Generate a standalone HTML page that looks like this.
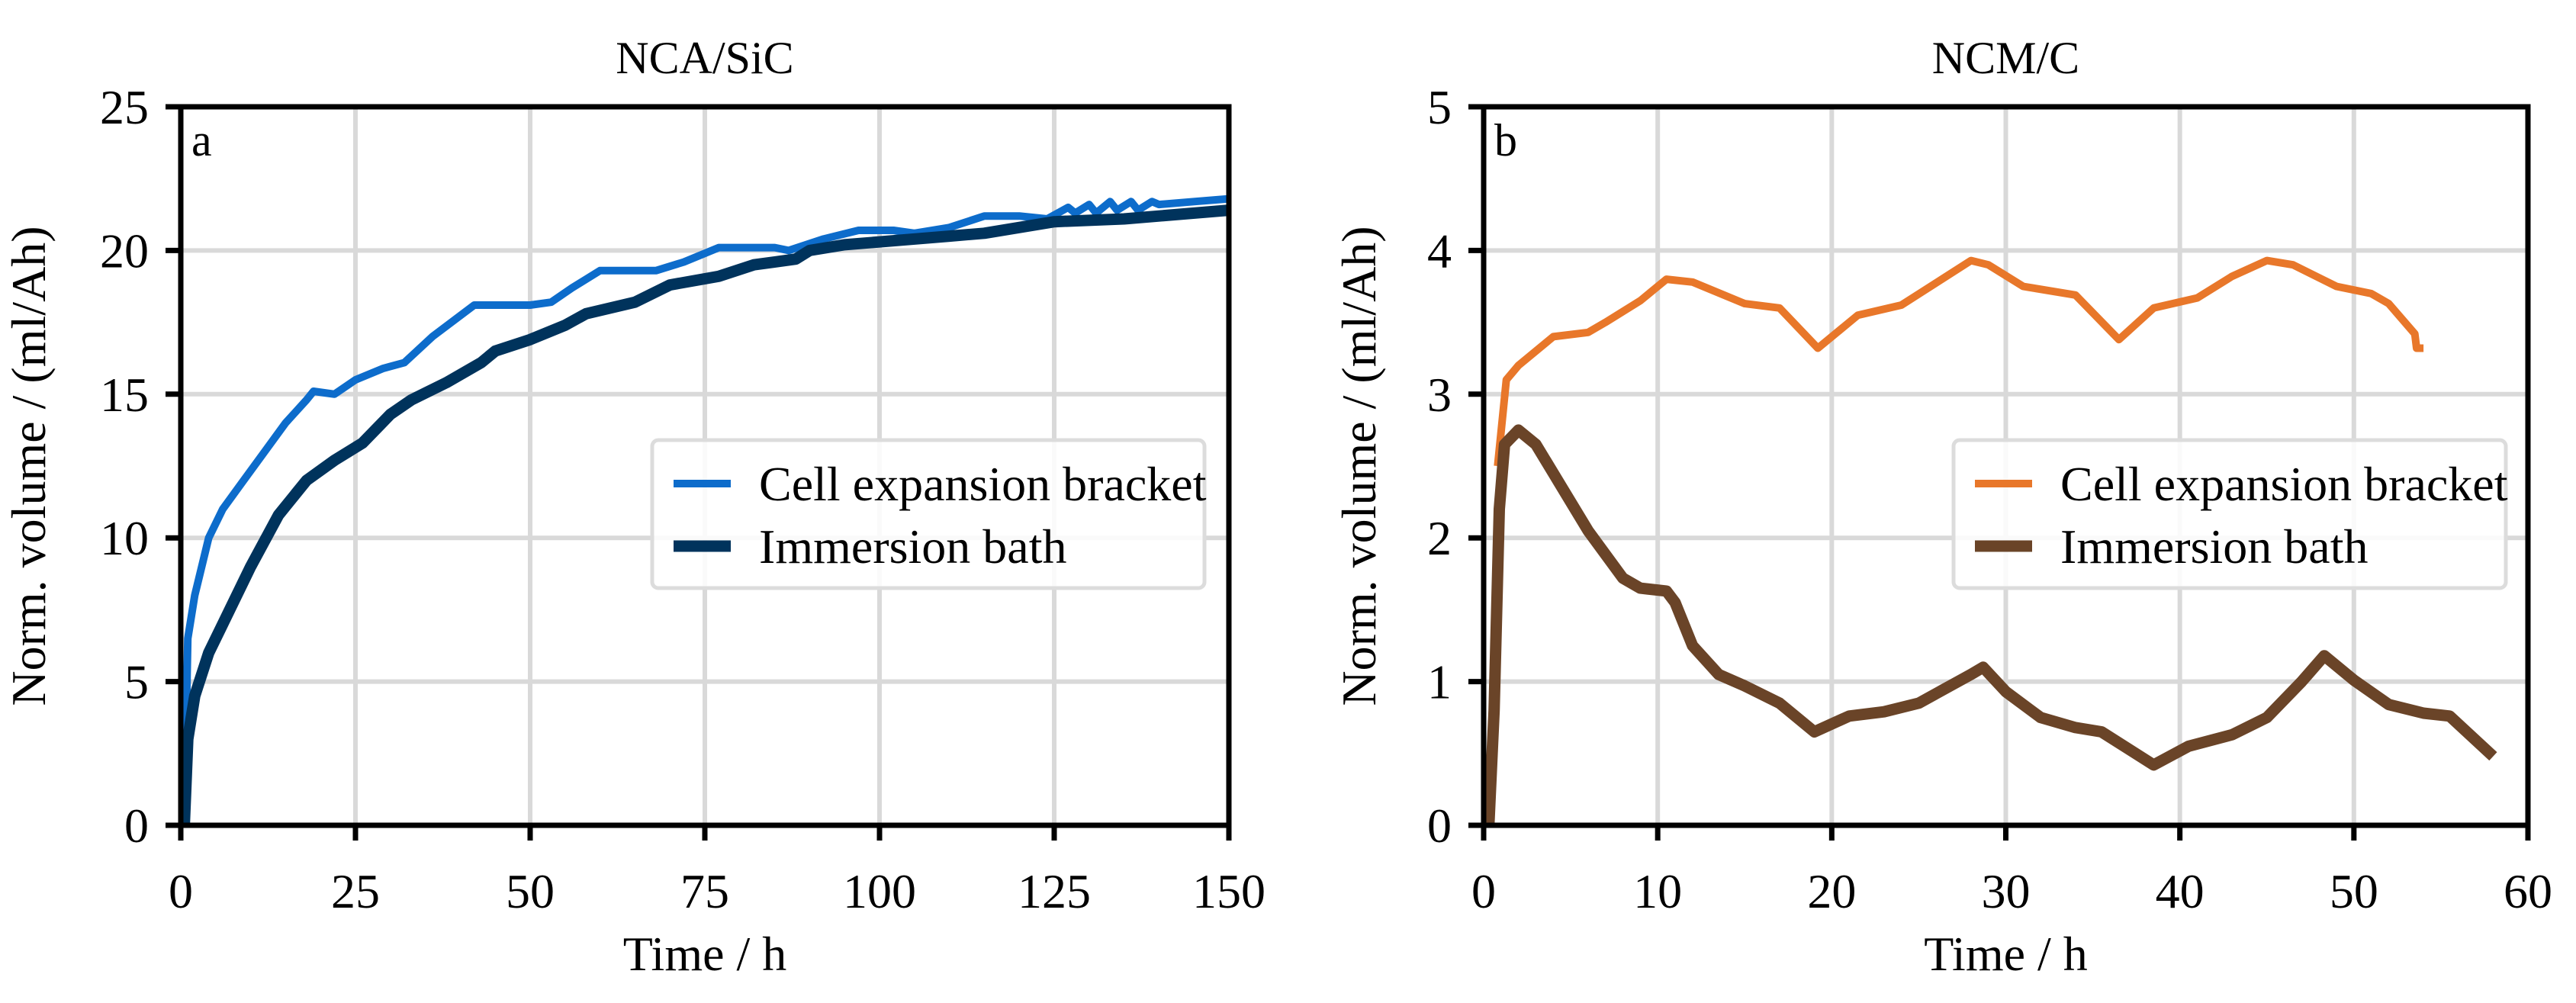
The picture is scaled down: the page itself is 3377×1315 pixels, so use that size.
<!DOCTYPE html>
<html><head><meta charset="utf-8"><style>
html,body{margin:0;padding:0;background:#fff;}
svg text{font-family:"Liberation Serif",serif;fill:#000;}
</style></head><body>
<svg id="fig" width="3377" height="1310" viewBox="0 0 3377 1310" xmlns="http://www.w3.org/2000/svg"></svg>
<script>
const aBracketX=[0.5,1,2,4,6,9,12,15,18,19,22,25,29,32,36,42,50,53,56,60,68,72,77,85,87,92,97,102,105,110,115,120,124,127,128,130,131,133,134,136,137,139,140,145,150];
const aBracketY=[0,6.5,8,10,11,12,13,14,14.8,15.1,15,15.5,15.9,16.1,17,18.1,18.1,18.2,18.7,19.3,19.3,19.6,20.1,20.1,20,20.4,20.7,20.7,20.6,20.8,21.2,21.2,21.1,21.5,21.3,21.6,21.3,21.7,21.4,21.7,21.4,21.7,21.6,21.7,21.8];
const aBathX=[0.5,1,2,4,6,10,14,18,22,26,30,33,38,43,45,50,55,58,65,70,77,82,88,90,95,100,110,115,125,135,150];
const aBathY=[0,3,4.5,6,7,9,10.8,12,12.7,13.3,14.3,14.8,15.4,16.1,16.5,16.9,17.4,17.8,18.2,18.8,19.1,19.5,19.7,20,20.2,20.3,20.5,20.6,21,21.1,21.4];
const bBracketX=[0.8,1.3,2,4,6,7,9,10.5,12,15,17,19.2,21.5,24,28,29,31,34,36.5,38.5,41,43,45,46.5,49,51,52,53.5,53.6,54];
const bBracketY=[2.5,3.1,3.2,3.4,3.43,3.5,3.65,3.8,3.78,3.63,3.6,3.32,3.55,3.62,3.93,3.9,3.75,3.69,3.38,3.6,3.67,3.82,3.93,3.9,3.75,3.7,3.63,3.42,3.32,3.32];
const bBathX=[0.3,0.6,0.9,1.2,2,3,4,6,8,9,10.5,11,12,13.5,15,17,19,21,23,25,28,28.7,30,32,34,35.5,38.5,40.5,43,45,47,48.3,50,52,54,55.5,58];
const bBathY=[0,0.8,2.2,2.65,2.75,2.65,2.45,2.05,1.72,1.65,1.63,1.55,1.25,1.05,0.97,0.85,0.65,0.76,0.79,0.85,1.05,1.1,0.93,0.75,0.68,0.65,0.42,0.55,0.63,0.75,1.0,1.18,1.01,0.84,0.78,0.76,0.48];
const aXTicks=[0,25,50,75,100,125,150];
const aYTicks=[0,5,10,15,20,25];
const bXTicks=[0,10,20,30,40,50,60];
const bYTicks=[0,1,2,3,4,5];

const NS="http://www.w3.org/2000/svg";
const svg=document.getElementById('fig');
function mk(tag,attrs,parent){const e=document.createElementNS(NS,tag);for(const k in attrs)e.setAttribute(k,attrs[k]);(parent||svg).appendChild(e);return e;}

function panel(o){
  const g=mk('g',{});
  
  
  const sx=v=>o.L+(v-o.xmin)/(o.xmax-o.xmin)*(o.R-o.L);
  const sy=v=>o.B-(v-o.ymin)/(o.ymax-o.ymin)*(o.B-o.T);
  o.xt.forEach(t=>{const l=mk('line',{x1:sx(t),x2:sx(t),y1:o.T,y2:o.B,stroke:'#d9d9d9','stroke-width':6},g);
    });
  o.yt.forEach(t=>{const l=mk('line',{x1:o.L,x2:o.R,y1:sy(t),y2:sy(t),stroke:'#d9d9d9','stroke-width':6},g);
    });
  o.series.forEach(s=>{
    const d=s.x.map((x,i)=>(i?'L':'M')+sx(x).toFixed(1)+','+sy(s.y[i]).toFixed(1)).join('');
    const p=mk('path',{d:d,fill:'none',stroke:s.c,'stroke-width':s.w,'stroke-linejoin':'round','stroke-linecap':'butt'},g);
    
  });
  const fr=mk('rect',{x:o.L,y:o.T,width:o.R-o.L,height:o.B-o.T,fill:'none',stroke:'#000','stroke-width':7},g);
  
  o.xt.forEach(t=>{
    const l=mk('line',{x1:sx(t),x2:sx(t),y1:o.B,y2:o.B+20,stroke:'#000','stroke-width':7},g);
    
    const tx=mk('text',{x:sx(t),y:o.B+108,'font-size':64,'text-anchor':'middle'},g);tx.textContent=t;
    
  });
  o.yt.forEach(t=>{
    const l=mk('line',{x1:o.L-20,x2:o.L,y1:sy(t),y2:sy(t),stroke:'#000','stroke-width':7},g);
    
    const tx=mk('text',{x:o.L-42,y:sy(t)+22,'font-size':64,'text-anchor':'end'},g);tx.textContent=t;
    
  });
  const ti=mk('text',{x:(o.L+o.R)/2,y:96,'font-size':60,'text-anchor':'middle'},g);ti.textContent=o.title;
  
  const xl=mk('text',{x:(o.L+o.R)/2,y:1272,'font-size':64,'text-anchor':'middle'},g);xl.textContent='Time / h';
  
  const yl=mk('text',{x:0,y:0,'font-size':64,'text-anchor':'middle',transform:`translate(${o.L-o.yoff},${(o.T+o.B)/2}) rotate(-90)`},g);yl.textContent='Norm. volume / (ml/Ah)';
  
  const pl=mk('text',{x:o.L+14,y:o.T+64,'font-size':60},g);pl.textContent=o.label;
  
  const lg=mk('g',{},g);
  
  mk('rect',{x:o.lx,y:577,width:724,height:194,rx:8,fill:'#fff','fill-opacity':0.85,stroke:'#dcdcdc','stroke-width':5},lg);
  o.series.forEach((s,i)=>{
    const y=634+i*82;
    const ll=mk('line',{x1:o.lx+28,x2:o.lx+103,y1:y,y2:y,stroke:s.c,'stroke-width':s.w},lg);
    
    const lt=mk('text',{x:o.lx+140,y:y+22,'font-size':64},lg);lt.textContent=s.label;
    
  });
}
panel({name:'panel-a-nca-sic',L:237,R:1611,T:140,B:1082,xmin:0,xmax:150,ymin:0,ymax:25,xt:aXTicks,yt:aYTicks,title:'NCA/SiC',label:'a',lx:855,yoff:178,
  series:[{x:aBracketX,y:aBracketY,c:'#0d6ccb',w:10,n:'bracket-line',label:'Cell expansion bracket'},
          {x:aBathX,y:aBathY,c:'#00335c',w:15,n:'bath-line',label:'Immersion bath'}]});
panel({name:'panel-b-ncm-c',L:1945,R:3314,T:140,B:1082,xmin:0,xmax:60,ymin:0,ymax:5,xt:bXTicks,yt:bYTicks,title:'NCM/C',label:'b',lx:2561,yoff:142,
  series:[{x:bBracketX,y:bBracketY,c:'#e8772a',w:10,n:'bracket-line',label:'Cell expansion bracket'},
          {x:bBathX,y:bBathY,c:'#6a4428',w:15,n:'bath-line',label:'Immersion bath'}]});
</script>
</body></html>
